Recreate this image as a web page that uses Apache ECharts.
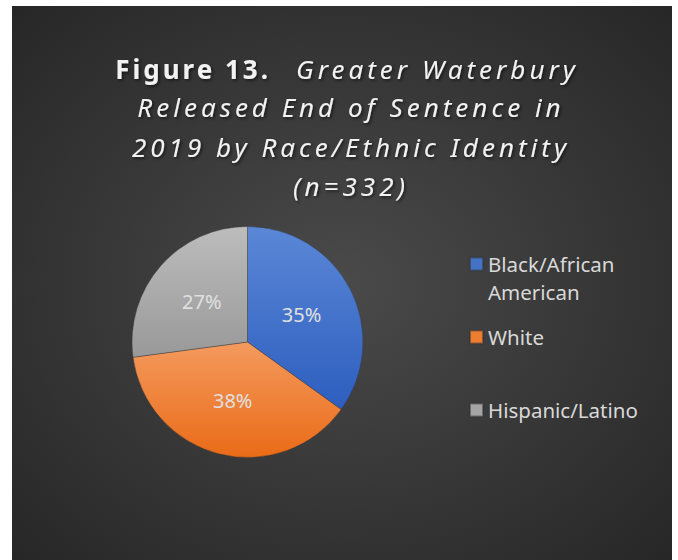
<!DOCTYPE html>
<html><head><meta charset="utf-8">
<script src="https://cdn.jsdelivr.net/npm/echarts@6/dist/echarts.min.js"></script>
<style>
html,body{margin:0;padding:0;background:#fff;}
#c{width:678px;height:560px;}
#c text[style*="26px"]{letter-spacing:4px;}
#c text[style*="26px"][style*="bold"]{letter-spacing:3px;}
</style></head><body><div id="c"></div>
<script>
const categories = ['Black/African American', 'White', 'Hispanic/Latino'];
const counts = [116, 126, 90];
const titleBold = 'Figure 13.';
const titleItalicFirst = 'Greater Waterbury';
const titleLines = ['Released End of Sentence in', '2019 by Race/Ethnic Identity', '(n=332)'];
const baseColors = ['#4472c4', '#ed7d31', '#a5a5a5'];
const topColors = ['#5b87d6', '#f49a5e', '#bcbcbc'];
const bottomColors = ['#2d5ebf', '#ea6b17', '#999999'];

const FONT = '"Noto Sans", "Open Sans", sans-serif';
const chart = echarts.init(document.getElementById('c'), null, {renderer: 'svg'});

const titleStyle = {
  fill: '#f2f2f2',
  textShadowColor: 'rgba(0,0,0,0.6)',
  textShadowBlur: 3,
  textShadowOffsetX: 1.5,
  textShadowOffsetY: 1.5,
  verticalAlign: 'middle'
};

const graphics = [
  {type: 'rect', z: -10, silent: true,
   shape: {x: 12, y: 6, width: 660, height: 554},
   style: {fill: new echarts.graphic.RadialGradient(0.5, 0.5, 0.72, [
     {offset: 0, color: '#4a4a4a'}, {offset: 1, color: '#262626'}])}},
  {type: 'text', z: 10, x: 271, y: 68.5,
   style: Object.assign({text: titleBold, font: 'bold 26px ' + FONT, align: 'right'}, titleStyle)},
  {type: 'text', z: 10, x: 296, y: 68.5,
   style: Object.assign({text: titleItalicFirst, font: 'italic 26px ' + FONT, align: 'left'}, titleStyle)}
];
titleLines.forEach((t, i) => {
  graphics.push({type: 'text', z: 10, x: 351, y: 107 + i * 39.5,
    style: Object.assign({text: t, font: 'italic 26px ' + FONT, align: 'center'}, titleStyle)});
});

const legendTops = [222, 323, 396];
const legends = categories.map((name, i) => ({
  data: [{name: name, itemStyle: {color: baseColors[i]}}],
  orient: 'vertical',
  left: 469,
  top: legendTops[i],
  padding: 0,
  itemWidth: 13,
  itemHeight: 13,
  icon: 'rect',
  selectedMode: false,
  formatter: i === 0 ? (n => '\n' + n.split(' ').join('\n')) : (n => n),
  textStyle: {color: '#d9d9d9', fontSize: 20.5, fontFamily: FONT, lineHeight: 28}
}));

chart.setOption({
  animation: false,
  graphic: graphics,
  legend: legends,
  series: [{
    type: 'pie',
    center: [247.5, 342],
    radius: 115.5,
    startAngle: 90,
    clockwise: true,
    percentPrecision: 0,
    label: {
      show: true,
      position: 'inside',
      formatter: '{d}%',
      color: '#e0e0e0',
      fontSize: 20,
      fontFamily: FONT
    },
    labelLine: {show: false},
    emphasis: {disabled: true},
    itemStyle: {borderColor: 'rgba(50,50,50,0.5)', borderWidth: 0.8},
    data: categories.map((name, i) => ({
      name: name,
      value: counts[i],
      itemStyle: {color: new echarts.graphic.LinearGradient(0, 0, 0, 1, [
        {offset: 0, color: topColors[i]}, {offset: 1, color: bottomColors[i]}])}
    }))
  }]
});
</script></body></html>
